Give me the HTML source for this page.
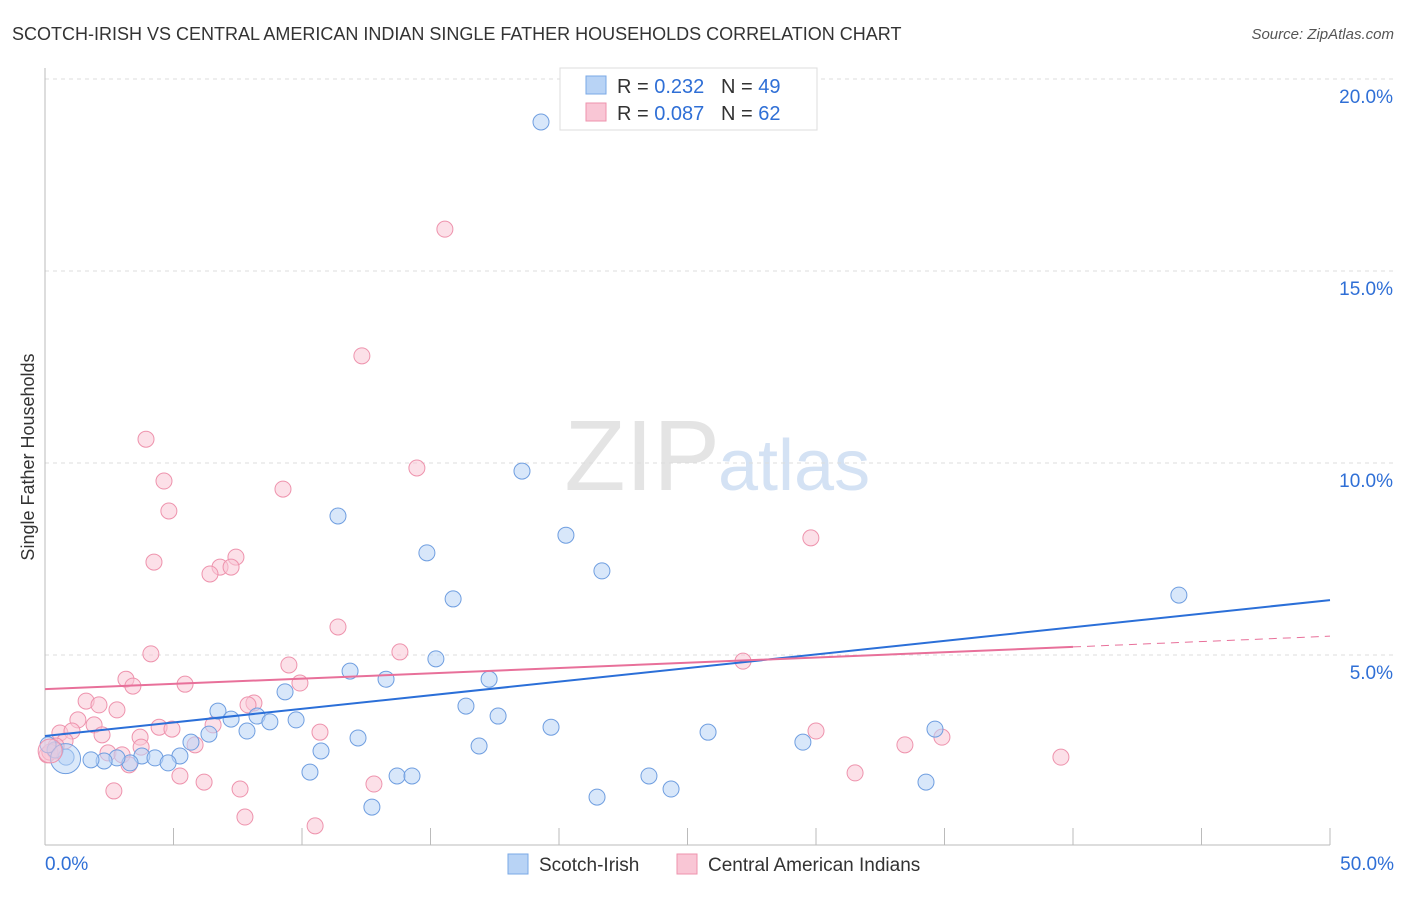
<!DOCTYPE html>
<html><head><meta charset="utf-8"><style>
body{margin:0;background:#fff;font-family:"Liberation Sans",sans-serif;}
svg text{font-family:"Liberation Sans",sans-serif;}
</style></head><body>
<svg id="chart" width="1406" height="892">
<text x="12" y="40" font-size="18" fill="#333">SCOTCH-IRISH VS CENTRAL AMERICAN INDIAN SINGLE FATHER HOUSEHOLDS CORRELATION CHART</text>
<text x="1394" y="39" font-size="15" fill="#555" font-style="italic" text-anchor="end">Source: ZipAtlas.com</text>
<text x="720" y="490" font-size="100" fill="#e4e4e4" text-anchor="end" font-family="Liberation Serif">ZIP</text>
<text x="718" y="490" font-size="72" fill="#d4e2f4">atlas</text>
<text transform="translate(34,457) rotate(-90)" font-size="18" fill="#333" text-anchor="middle">Single Father Households</text>
<g id="grid"></g><g id="marks"></g>
<g>
<rect x="560" y="68" width="257" height="62" fill="#fff" stroke="#ddd"/>
<rect x="586" y="76" width="20" height="18" fill="#b8d3f5" stroke="#7aa8e6"/>
<text x="617" y="93" font-size="20" fill="#333">R = <tspan fill="#2f6fd6">0.232</tspan>&#160;&#160;&#160;N = <tspan fill="#2f6fd6">49</tspan></text>
<rect x="586" y="103" width="20" height="18" fill="#f9c6d5" stroke="#ee93ad"/>
<text x="617" y="120" font-size="20" fill="#333">R = <tspan fill="#2f6fd6">0.087</tspan>&#160;&#160;&#160;N = <tspan fill="#2f6fd6">62</tspan></text>
</g>
<g>
<rect x="508" y="854" width="20" height="20" fill="#b8d3f5" stroke="#7aa8e6"/>
<text x="539" y="871" font-size="19" fill="#333">Scotch-Irish</text>
<rect x="677" y="854" width="20" height="20" fill="#f9c6d5" stroke="#ee93ad"/>
<text x="708" y="871" font-size="19" fill="#333">Central American Indians</text>
</g>
</svg>
<script>
const yTicks=[5,10,15,20];
const blueX=[19.30,18.56,11.40,20.27,14.86,21.67,15.88,44.12,15.21,11.87,13.27,17.28,9.34,16.38,6.73,17.63,7.24,8.25,8.75,9.77,19.69,34.63,25.80,7.86,6.38,12.18,29.49,5.68,16.89,10.74,5.25,3.77,4.28,4.79,3.31,2.80,2.30,1.79,0.82,0.39,10.31,13.70,14.28,23.50,34.28,24.36,21.48,12.72,0.12];
const blueY=[18.88,9.79,8.62,8.12,7.66,7.19,6.46,6.56,4.90,4.58,4.37,4.37,4.04,3.67,3.54,3.41,3.33,3.41,3.26,3.31,3.12,3.07,2.99,3.02,2.94,2.84,2.73,2.73,2.63,2.50,2.37,2.37,2.32,2.19,2.19,2.32,2.24,2.27,2.34,2.53,1.95,1.85,1.85,1.85,1.69,1.51,1.30,1.04,2.66];
const pinkX=[15.56,12.33,3.93,14.47,4.63,9.26,4.82,29.80,4.24,7.43,6.81,7.24,6.42,11.40,4.12,13.81,9.49,27.16,3.15,5.45,3.42,9.92,1.60,2.10,2.80,8.13,7.90,6.54,1.28,4.44,4.94,1.91,0.58,1.05,2.22,10.70,30.00,3.70,0.78,5.84,0.43,33.46,34.90,2.45,3.00,3.74,0.08,39.53,3.27,5.25,12.80,31.52,6.19,7.59,2.68,7.78,10.51,0.39,0.19];
const pinkY=[16.09,12.79,10.62,9.87,9.53,9.32,8.75,8.05,7.42,7.55,7.29,7.29,7.11,5.73,5.03,5.08,4.74,4.84,4.37,4.24,4.19,4.27,3.80,3.70,3.57,3.75,3.70,3.18,3.31,3.12,3.07,3.18,2.97,3.02,2.92,2.99,3.02,2.86,2.76,2.66,2.63,2.66,2.86,2.45,2.40,2.60,2.40,2.34,2.14,1.85,1.64,1.93,1.69,1.51,1.46,0.78,0.55,2.50,2.47];
const blueTrend=[2.89,6.43];
const pinkTrend=[4.11,5.21,5.49];
const X=v=>45+v/50*1285, Y=v=>847-v/5*192;
const NS='http://www.w3.org/2000/svg';
function mk(t,a,p){const e=document.createElementNS(NS,t);for(const k in a)e.setAttribute(k,a[k]);p.appendChild(e);return e;}
const g=document.getElementById('grid'), m=document.getElementById('marks');
yTicks.forEach(t=>{
 const l=mk('line',{x1:45,x2:1394,y1:Y(t),y2:Y(t),stroke:'#ddd','stroke-dasharray':'4,4'},g);
 
 
 const tx=mk('text',{x:1393,y:Y(t)+24,'font-size':19,fill:'#2f6fd6','text-anchor':'end'},g);tx.textContent=t.toFixed(1)+'%';
 
 
});
const ax=mk('line',{x1:45,x2:1330,y1:845,y2:845,stroke:'#bbb'},g);


const ay=mk('line',{x1:45,x2:45,y1:68,y2:845,stroke:'#bbb'},g);


for(let i=1;i<=10;i++){const t=mk('line',{x1:X(i*5),x2:X(i*5),y1:828,y2:845,stroke:'#bbb'},g);
 
 }
[[0,'start',45],[50,'end',1394]].forEach(([v,a,x])=>{const t=mk('text',{x:x,y:870,'font-size':19,fill:'#2f6fd6','text-anchor':a},g);t.textContent=v.toFixed(1)+'%';
 
 });
function pts(xs,ys,fill,stroke,name){xs.forEach((x,i)=>{const c=mk('circle',{cx:X(x),cy:Y(ys[i]),r:8,fill:fill,'fill-opacity':0.55,stroke:stroke,'stroke-width':1},m);
 
 });}
pts(pinkX,pinkY,'#f9c6d5','#ee93ad','point-central-american');
pts(blueX,blueY,'#b8d3f5','#6f9ee0','point-scotch-irish');
const bb=mk('circle',{cx:X(0.8),cy:Y(2.3),r:15,fill:'#b8d3f5','fill-opacity':0.5,stroke:'#6f9ee0'},m);


const pb=mk('circle',{cx:X(0.2),cy:Y(2.5),r:12,fill:'#f9c6d5','fill-opacity':0.5,stroke:'#ee93ad'},m);


const bl=mk('line',{x1:X(0),y1:Y(blueTrend[0]),x2:X(50),y2:Y(blueTrend[1]),stroke:'#2b6fd8','stroke-width':2},m);


const pl=mk('line',{x1:X(0),y1:Y(pinkTrend[0]),x2:X(40),y2:Y(pinkTrend[1]),stroke:'#e8709a','stroke-width':2},m);


const pd=mk('line',{x1:X(40),y1:Y(pinkTrend[1]),x2:X(50),y2:Y(pinkTrend[2]),stroke:'#e8709a','stroke-width':1,'stroke-dasharray':'8,6'},m);


</script>
</body></html>
